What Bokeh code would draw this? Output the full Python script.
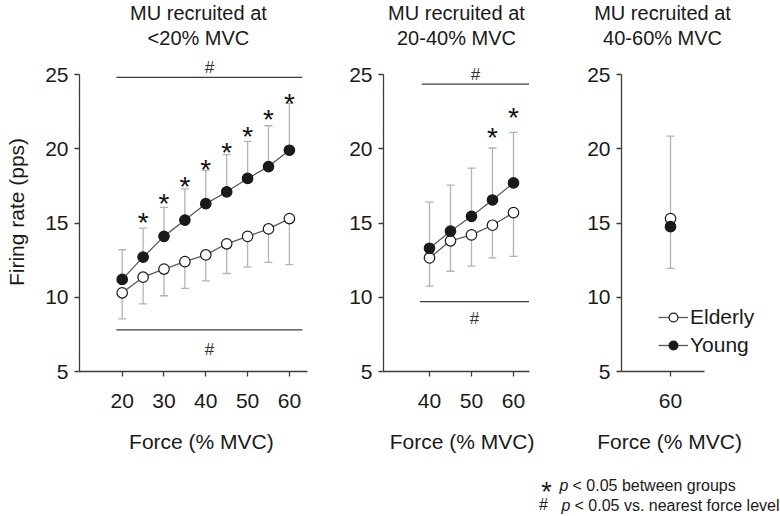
from bokeh.plotting import figure
from bokeh.models import (Range1d, FixedTicker, Whisker, TeeHead, ColumnDataSource,
                          Title, Legend, LegendItem)
from bokeh.layouts import row, column
from bokeh.embed import file_html
from bokeh.resources import INLINE
from bokeh.core.properties import value

FONT = "Liberation Sans"
TXT = "#1a1a1a"
AXIS = "#3c3c3c"
LINE = "#5a5a5a"
ERR = "#b3b3b3"
MK = "#1a1a1a"

# ---------------- data ----------------
force_lt20 = [20, 25, 30, 35, 40, 45, 50, 55, 60]
young_lt20 = [11.2, 12.7, 14.1, 15.2, 16.3, 17.1, 18.0, 18.8, 19.9]
young_lt20_sd = [2.0, 1.95, 1.95, 2.1, 2.25, 2.5, 2.5, 2.75, 3.15]
elderly_lt20 = [10.3, 11.35, 11.9, 12.4, 12.85, 13.6, 14.1, 14.6, 15.3]
elderly_lt20_sd = [1.75, 1.8, 1.8, 1.8, 1.75, 2.0, 2.05, 2.25, 3.1]
star_lt20_force = [25, 30, 35, 40, 45, 50, 55, 60]
star_lt20_y = [15.5, 16.8, 17.9, 19.05, 20.25, 21.3, 22.45, 23.55]

force_20_40 = [40, 45, 50, 55, 60]
young_20_40 = [13.3, 14.45, 15.45, 16.55, 17.7]
young_20_40_sd = [3.1, 3.1, 3.25, 3.5, 3.4]
elderly_20_40 = [12.65, 13.8, 14.2, 14.85, 15.7]
elderly_20_40_sd = [1.9, 2.05, 2.1, 2.2, 2.95]
star_20_40_force = [55, 60]
star_20_40_y = [21.2, 22.55]

force_40_60 = [60]
young_40_60 = [14.75]
young_40_60_sd = [2.8]
elderly_40_60 = [15.3]
elderly_40_60_sd = [5.55]

y_ticks = [5, 10, 15, 20, 25]
x_ticks_lt20 = [20, 30, 40, 50, 60]
x_ticks_20_40 = [40, 50, 60]
x_ticks_40_60 = [60]

titles_lt20 = ["MU recruited at", "<20% MVC"]
titles_20_40 = ["MU recruited at", "20-40% MVC"]
titles_40_60 = ["MU recruited at", "40-60% MVC"]
x_label = "Force (% MVC)"
y_label = "Firing rate (pps)"

# "#" bars: (x start, x end, bar level, "#" level)
hash_lt20 = [(18.6, 63.1, 24.8, 25.45), (18.6, 63.1, 7.8, 6.45)]
hash_20_40 = [(38.2, 63.7, 24.35, 25.0), (37.7, 63.7, 9.7, 8.6)]

H = 476
TOP = 52
BOTTOM = 105
PXU = 14.85


def panel(width, left, right, x0, x1, xbounds, xticks, title_lines, title_offsets,
          xlabel_offset, ylabel=None):
    frame_h = H - TOP - BOTTOM
    y_end = 5 + frame_h / PXU
    p = figure(width=width, height=H, x_range=Range1d(x0, x1), y_range=Range1d(5, y_end),
               output_backend="svg", toolbar_location=None, title=None,
               min_border_left=left, min_border_right=right,
               min_border_top=TOP, min_border_bottom=BOTTOM)
    p.outline_line_color = None
    p.xgrid.visible = False
    p.ygrid.visible = False
    p.background_fill_color = "white"
    p.border_fill_color = "white"
    p.xaxis.ticker = FixedTicker(ticks=xticks)
    p.yaxis.ticker = FixedTicker(ticks=y_ticks)
    p.yaxis.bounds = (5, 25)
    p.xaxis.bounds = xbounds
    for ax in (p.xaxis[0], p.yaxis[0]):
        ax.axis_line_color = AXIS
        ax.axis_line_width = 1.3
        ax.major_tick_line_color = AXIS
        ax.major_tick_line_width = 1.3
        ax.major_tick_out = 5
        ax.major_tick_in = 0
        ax.minor_tick_out = 0
        ax.minor_tick_in = 0
        ax.major_label_text_font = FONT
        ax.major_label_text_font_size = "21px"
        ax.major_label_text_color = TXT
        ax.axis_label_text_font = FONT
        ax.axis_label_text_font_size = "21px"
        ax.axis_label_text_font_style = "normal"
        ax.axis_label_text_color = TXT
    p.xaxis.major_label_standoff = 17
    p.yaxis.major_label_standoff = 6
    if ylabel:
        p.yaxis.axis_label = ylabel
        p.yaxis.axis_label_standoff = 14
    # x label as a title below the axis (placed over the axis' own extent)
    p.add_layout(Title(text=x_label, align="left", offset=xlabel_offset, vertical_align="top",
                       standoff=38, text_font=FONT, text_font_size="21px",
                       text_font_style="normal", text_color=TXT), "below")
    # two-line panel heading: lower line first, upper line stacked above it
    p.add_layout(Title(text=title_lines[1], align="left", offset=title_offsets[1],
                       vertical_align="top", standoff=3, text_font=FONT,
                       text_font_size="20px", text_font_style="normal",
                       text_color=TXT), "above")
    p.add_layout(Title(text=title_lines[0], align="left", offset=title_offsets[0],
                       vertical_align="top", standoff=0, text_font=FONT,
                       text_font_size="20px", text_font_style="normal",
                       text_color=TXT), "above")
    return p


def whisker(p, src, lower, upper, up_head):
    head = TeeHead(size=8, line_color=ERR, line_width=1.3)
    p.add_layout(Whisker(source=src, base="x", lower=lower, upper=upper, dimension="height",
                         line_color=ERR, line_width=1.3,
                         upper_head=head if up_head else None,
                         lower_head=None if up_head else head))


def draw_series(p, force, young, young_sd, elderly, elderly_sd, young_up=True):
    ys = 1 if young_up else -1
    ysrc = ColumnDataSource(dict(x=force, y=young,
                                 e=[m + ys * s for m, s in zip(young, young_sd)]))
    esrc = ColumnDataSource(dict(x=force, y=elderly,
                                 e=[m - ys * s for m, s in zip(elderly, elderly_sd)]))
    if young_up:
        whisker(p, ysrc, "y", "e", True)
        whisker(p, esrc, "e", "y", False)
    else:
        whisker(p, ysrc, "e", "y", False)
        whisker(p, esrc, "y", "e", True)
    le = p.line("x", "y", source=esrc, line_color=LINE, line_width=1.3)
    se = p.scatter("x", "y", source=esrc, size=10.5, marker="circle", fill_color="white",
                   line_color=MK, line_width=1.2)
    ly = p.line("x", "y", source=ysrc, line_color=LINE, line_width=1.3)
    sy = p.scatter("x", "y", source=ysrc, size=10.5, marker="circle", fill_color=MK,
                   line_color=MK, line_width=1.2)
    return le, se, ly, sy


def draw_stars(p, xs, ys):
    p.text(x=xs, y=ys, text=["*"] * len(xs), text_font=value(FONT), text_font_size="28px",
           text_align="center", text_baseline="middle", y_offset=7, text_color="#111111")


def draw_hash(p, bars):
    for x0, x1, yb, yh in bars:
        p.segment(x0=[x0], y0=[yb], x1=[x1], y1=[yb], line_color=AXIS, line_width=1.3)
        p.text(x=[(x0 + x1) / 2], y=[yh], text=["#"], text_font=value(FONT),
               text_font_size="17px", text_align="center", text_baseline="middle",
               text_color="#333333")


# panel 1  (frame x 79..307)
p1 = panel(335, 79, 28, 9.785, 64.33, (9.785, 64.33), x_ticks_lt20, titles_lt20,
           (50.6, 68.1), 49.6, y_label)
draw_series(p1, force_lt20, young_lt20, young_lt20_sd, elderly_lt20, elderly_lt20_sd)
draw_stars(p1, star_lt20_force, star_lt20_y)
draw_hash(p1, hash_lt20)

# panel 2  (frame x 383..529)
p2 = panel(210, 48, 16, 29.05, 63.81, (29.05, 63.81), x_ticks_20_40, titles_20_40,
           (4.6, 13.5), 6.2)
draw_series(p2, force_20_40, young_20_40, young_20_40_sd, elderly_20_40, elderly_20_40_sd)
draw_stars(p2, star_20_40_force, star_20_40_y)
draw_hash(p2, hash_20_40)

# panel 3  (frame x 621..780, visible axis to 704)
p3 = panel(235, 76, 0, 48.33, 86.19, (48.33, 68.1), x_ticks_40_60, titles_40_60,
           (-27.3, -18.4), -24.3)
le, se, ly, sy = draw_series(p3, force_40_60, young_40_60, young_40_60_sd,
                             elderly_40_60, elderly_40_60_sd, young_up=False)
legend = Legend(items=[LegendItem(label="Elderly", renderers=[le, se]),
                       LegendItem(label="Young", renderers=[ly, sy])],
                location=(37, 14), glyph_width=30, glyph_height=22, label_height=22,
                spacing=4, padding=0, margin=0, border_line_color=None,
                background_fill_alpha=0, label_text_font=FONT, label_text_font_size="21px",
                label_text_color=TXT, label_standoff=2)
p3.add_layout(legend)

# footnotes
foot = figure(width=780, height=40, x_range=Range1d(0, 780), y_range=Range1d(0, 40),
              x_axis_type=None, y_axis_type=None, output_backend="svg",
              toolbar_location=None, title=None, min_border=0)
foot.outline_line_color = None
foot.text(x=[546], y=[31], text=["*"], text_font=value(FONT), text_font_size="27px",
          text_align="center", text_baseline="middle", y_offset=6, text_color=TXT)
foot.text(x=[543], y=[12], text=["#"], text_font=value(FONT), text_font_size="16px",
          text_align="center", text_baseline="middle", text_color=TXT)
foot.text(x=[559, 561], y=[31, 11], text=["p", "p"], text_font=value(FONT),
          text_font_size="16px", text_font_style="italic", text_align="left",
          text_baseline="middle", text_color=TXT)
foot.text(x=[572, 574], y=[31, 11],
          text=["< 0.05 between groups", "< 0.05 vs. nearest force level"],
          text_font=value(FONT), text_font_size="16px", text_align="left",
          text_baseline="middle", text_color=TXT)

layout = column(row(p1, p2, p3), foot)
open("out.html", "w").write(file_html(layout, INLINE))
